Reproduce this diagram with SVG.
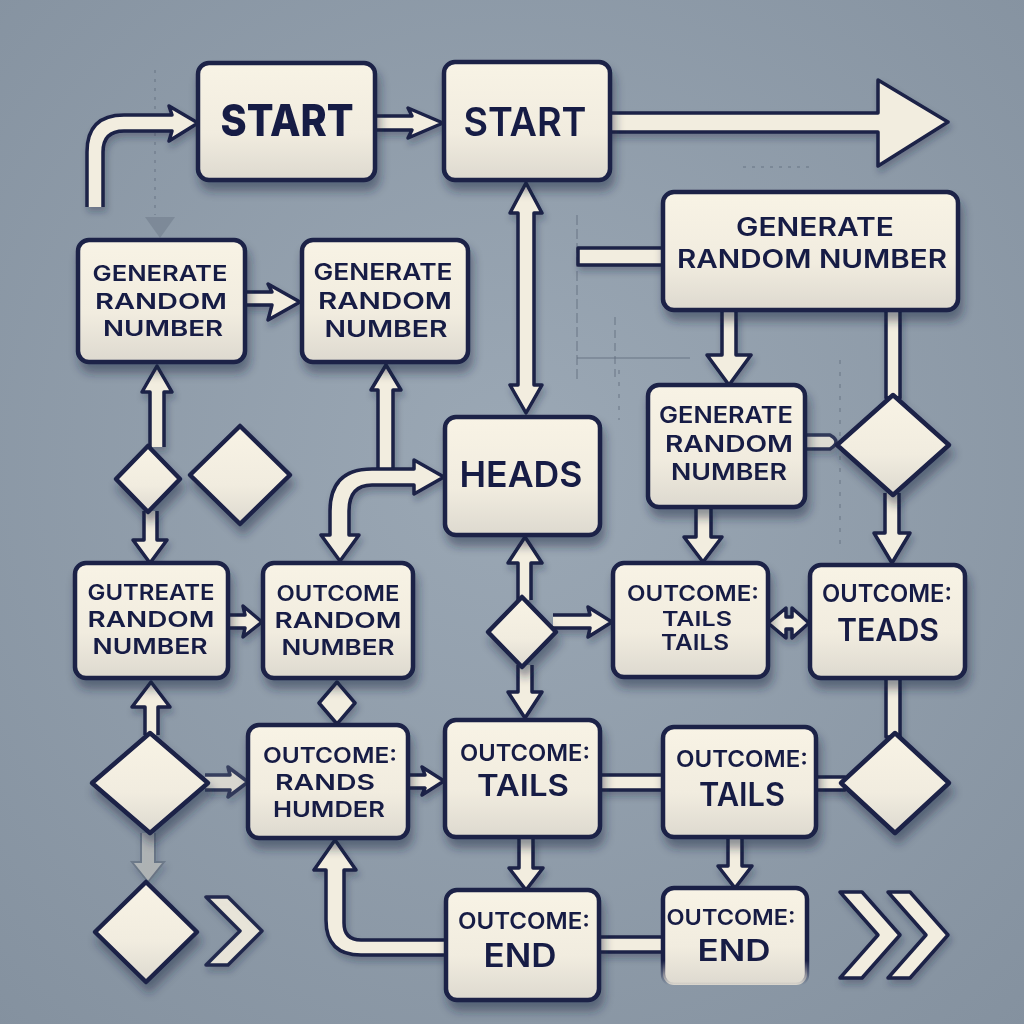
<svg xmlns="http://www.w3.org/2000/svg" width="1024" height="1024" viewBox="0 0 1024 1024">
<defs>
<radialGradient id="bg" cx="50%" cy="45%" r="75%">
<stop offset="0" stop-color="#9ba8b5"/>
<stop offset="1" stop-color="#84919f"/>
</radialGradient>
<linearGradient id="boxGrad" x1="0" y1="0" x2="0" y2="1">
<stop offset="0" stop-color="#f8f3e5"/>
<stop offset="0.6" stop-color="#f1ecdf"/>
<stop offset="1" stop-color="#ddd9cf"/>
</linearGradient>
<linearGradient id="fadeStroke" x1="0" y1="0" x2="0" y2="1">
<stop offset="0" stop-color="#1a2046"/>
<stop offset="0.75" stop-color="#1a2046"/>
<stop offset="1" stop-color="#1a2046" stop-opacity="0"/>
</linearGradient>
<filter id="sh" x="-20%" y="-20%" width="140%" height="150%">
<feGaussianBlur in="SourceAlpha" stdDeviation="5"/>
<feOffset dx="3" dy="9" result="b"/>
<feFlood flood-color="#1c2540" flood-opacity="0.45"/>
<feComposite in2="b" operator="in"/>
<feMerge><feMergeNode/><feMergeNode in="SourceGraphic"/></feMerge>
</filter>
<filter id="shs" x="-20%" y="-20%" width="140%" height="150%">
<feGaussianBlur in="SourceAlpha" stdDeviation="3"/>
<feOffset dx="2" dy="5" result="b"/>
<feFlood flood-color="#1c2540" flood-opacity="0.3"/>
<feComposite in2="b" operator="in"/>
<feMerge><feMergeNode/><feMergeNode in="SourceGraphic"/></feMerge>
</filter>
<style>
.box{fill:url(#boxGrad);stroke:#1a2046;stroke-width:4.5}
.dia{fill:url(#boxGrad);stroke:#1a2046;stroke-width:4.5;stroke-linejoin:round}
.conn{fill:#f2eddf;stroke:#1a2046;stroke-width:3.5;stroke-linejoin:round}
.faint{fill:none;stroke:#5f6c7c;stroke-width:1.5;opacity:0.55}
.t{font-family:Inter,"Liberation Sans",sans-serif;fill:#171c44;text-anchor:middle;font-weight:600}
.tb{font-weight:800}
</style>
</defs>
<rect width="1024" height="1024" fill="url(#bg)"/>

<g id="background-lines">
<line class="faint" x1="155" y1="70" x2="155" y2="215" stroke-dasharray="3 6"/>
<polygon points="145,217 175,217 160,238" fill="#6c7888" opacity="0.5"/>
<line class="faint" x1="577" y1="215" x2="577" y2="380" stroke-dasharray="10 4"/>
<line class="faint" x1="615" y1="317" x2="615" y2="380" stroke-dasharray="8 5"/>
<line class="faint" x1="577" y1="358" x2="690" y2="358"/>
<line class="faint" x1="743" y1="167" x2="815" y2="167" stroke-dasharray="3 6"/>
<line class="faint" x1="840" y1="360" x2="840" y2="547" stroke-dasharray="4 8"/>
<line class="faint" x1="619" y1="370" x2="619" y2="420" stroke-dasharray="4 8"/>
</g>

<g id="connectors" filter="url(#shs)">
<path class="conn" d="M87,207 L87,152 Q87,115 124,115 L172,115 L169,106 L198,123 L169,141 L172,131 L124,131 Q103,131 103,152 L103,207"/>
<path class="conn" d="M375,116 L412,116 L408,108 L443,123 L408,138 L412,130 L375,130"/>
<path class="conn" d="M608,113 L878,113 L878,80 L948,122 L878,166 L878,132 L608,132"/>
<path class="conn" d="M518,213 L510,213 L526,183 L542,213 L534,213 L534,385 L542,385 L526,413 L510,385 L518,385 Z"/>
<path class="conn" d="M663,248 L578,248 L578,265 L663,265"/>
<path class="conn" d="M245,292 L272,292 L268,284 L300,302 L268,320 L272,305 L245,305"/>
<path class="conn" d="M150,447 L150,392 L142,392 L157,366 L172,392 L164,392 L164,447"/>
<path class="conn" d="M378,470 L378,390 L371,390 L386,365 L401,390 L393,390 L393,470"/>
<path class="conn" d="M414,460 L444,477 L414,494 L414,485 L372,485 Q349,485 349,511 L349,535 L359,535 L340,561 L321,535 L330,535 L330,511 Q330,469 372,469 L414,469 Z"/>
<path class="conn" d="M722,310 L722,355 L707,355 L729,385 L751,355 L736,355 L736,310"/>
<path class="conn" d="M886,310 L886,398 L900,398 L900,310"/>
<path class="conn" d="M805,435 L830,435 Q842,442 830,449 L805,449" opacity="0.8"/>
<path class="conn" d="M885,493 L885,533 L874,533 L892,563 L910,533 L899,533 L899,493"/>
<path class="conn" d="M696,507 L696,537 L684,537 L703,562 L722,537 L711,537 L711,507"/>
<path class="conn" d="M144,511 L144,540 L133,540 L150,563 L167,540 L157,540 L157,511"/>
<path class="conn" d="M228,615 L245,615 L243,606 L262,622 L243,637 L245,628 L228,628"/>
<path class="conn" d="M518,600 L518,563 L508,563 L525,537 L542,563 L531,563 L531,600"/>
<path class="conn" d="M518,665 L518,692 L508,692 L525,718 L542,692 L532,692 L532,665"/>
<path class="conn" d="M553,615 L590,615 L588,607 L612,622 L588,637 L590,628 L553,628"/>
<path class="conn" d="M768,623 L786,608 L786,617 L792,617 L792,608 L809,623 L792,638 L792,629 L786,629 L786,638 Z"/>
<path class="conn" d="M886,678 L886,737 L900,737 L900,678"/>
<path class="conn" d="M145,735 L145,707 L132,707 L151,682 L170,707 L158,707 L158,735"/>
<path class="conn" d="M337,682 L355,703 L337,724 L319,703 Z"/>
<path class="conn" d="M205,775 L230,775 L228,767 L248,782 L228,797 L230,790 L205,790" opacity="0.75"/>
<path class="conn" d="M408,775 L425,775 L422,767 L444,781 L422,795 L425,788 L408,788"/>
<path class="conn" d="M600,775 L663,775 L663,790 L600,790"/>
<path class="conn" d="M816,777 L845,777 L845,790 L816,790"/>
<path d="M141,833 L141,862 L132,862 L148,882 L164,862 L155,862 L155,833" fill="#c9c9c4" stroke="#5d6878" stroke-width="2" opacity="0.6"/>
<path class="conn" d="M519,837 L519,868 L509,868 L526,890 L543,868 L533,868 L533,837"/>
<path class="conn" d="M728,837 L728,866 L718,866 L735,888 L752,866 L742,866 L742,837"/>
<path class="conn" d="M446,940 L361,940 Q344,940 344,923 L344,870 L356,870 L335,840 L314,870 L326,870 L326,920 Q326,955 361,955 L446,955"/>
<path class="conn" d="M599,937 L663,937 L663,952 L599,952"/>
</g>

<g id="n-start1" filter="url(#sh)">
<rect class="box" x="198" y="63" width="177" height="117" rx="11"/>
<text class="t tb" x="287" y="136" font-size="44" textLength="133" lengthAdjust="spacingAndGlyphs">START</text>
</g>
<g id="n-start2" filter="url(#sh)">
<rect class="box" x="444" y="62" width="166" height="118" rx="11"/>
<text class="t" x="525" y="136" font-size="40" font-weight="700" textLength="123" lengthAdjust="spacingAndGlyphs">START</text>
</g>
<g id="n-gen-top" filter="url(#sh)">
<rect class="box" x="663" y="192" width="295" height="118" rx="11"/>
<text class="t" x="815" y="236" font-size="26" textLength="158" lengthAdjust="spacingAndGlyphs">GENERATE</text>
<text class="t" x="812" y="268" font-size="26" textLength="270" lengthAdjust="spacingAndGlyphs">RANDOM NUMBER</text>
</g>
<g id="n-gen-left" filter="url(#sh)">
<rect class="box" x="78" y="240" width="167" height="122" rx="11"/>
<text class="t" x="160" y="281" font-size="22" textLength="135" lengthAdjust="spacingAndGlyphs">GENERATE</text>
<text class="t" x="161" y="308.5" font-size="22" textLength="132" lengthAdjust="spacingAndGlyphs">RANDOM</text>
<text class="t" x="163" y="336" font-size="22" textLength="120" lengthAdjust="spacingAndGlyphs">NUMBER</text>
</g>
<g id="n-gen-left2" filter="url(#sh)">
<rect class="box" x="302" y="240" width="166" height="122" rx="11"/>
<text class="t" x="383" y="280" font-size="22.5" textLength="139" lengthAdjust="spacingAndGlyphs">GENERATE</text>
<text class="t" x="385" y="308.5" font-size="22.5" textLength="134" lengthAdjust="spacingAndGlyphs">RANDOM</text>
<text class="t" x="386" y="337" font-size="22.5" textLength="123" lengthAdjust="spacingAndGlyphs">NUMBER</text>
</g>
<g id="n-heads" filter="url(#sh)">
<rect class="box" x="445" y="417" width="155" height="118" rx="11"/>
<text class="t" x="521" y="487" font-size="36" font-weight="700" textLength="123" lengthAdjust="spacingAndGlyphs">HEADS</text>
</g>
<g id="n-gen-mid" filter="url(#sh)">
<rect class="box" x="648" y="385" width="157" height="122" rx="11"/>
<text class="t" x="726" y="423" font-size="23" textLength="134" lengthAdjust="spacingAndGlyphs">GENERATE</text>
<text class="t" x="729" y="451.5" font-size="23" textLength="128" lengthAdjust="spacingAndGlyphs">RANDOM</text>
<text class="t" x="729" y="480" font-size="23" textLength="116" lengthAdjust="spacingAndGlyphs">NUMBER</text>
</g>
<g id="n-dec-right-top" filter="url(#sh)">
<path class="dia" d="M893,395 L949,445 L893,495 L837,445 Z"/>
</g>
<g id="n-dec-left-small" filter="url(#sh)">
<path class="dia" d="M148,446 L180,479 L148,512 L116,479 Z"/>
</g>
<g id="n-dec-left2" filter="url(#sh)">
<path class="dia" d="M240,426 L290,475 L240,524 L190,475 Z"/>
</g>
<g id="n-gutreate" filter="url(#sh)">
<rect class="box" x="75" y="563" width="153" height="115" rx="11"/>
<text class="t" x="151" y="600" font-size="22" textLength="127" lengthAdjust="spacingAndGlyphs">GUTREATE</text>
<text class="t" x="151" y="627" font-size="22" textLength="127" lengthAdjust="spacingAndGlyphs">RANDOM</text>
<text class="t" x="150" y="654" font-size="22" textLength="115" lengthAdjust="spacingAndGlyphs">NUMBER</text>
</g>
<g id="n-outcome-rn" filter="url(#sh)">
<rect class="box" x="263" y="563" width="150" height="115" rx="11"/>
<text class="t" x="338" y="601" font-size="22" textLength="123" lengthAdjust="spacingAndGlyphs">OUTCOME</text>
<text class="t" x="338" y="628" font-size="22" textLength="127" lengthAdjust="spacingAndGlyphs">RANDOM</text>
<text class="t" x="338" y="655" font-size="22" textLength="113" lengthAdjust="spacingAndGlyphs">NUMBER</text>
</g>
<g id="n-dec-mid" filter="url(#sh)">
<path class="dia" d="M522,597 L556,632 L522,667 L488,632 Z"/>
</g>
<g id="n-tails-tails" filter="url(#sh)">
<rect class="box" x="613" y="563" width="155" height="114" rx="11"/>
<text class="t" x="693" y="601" font-size="22" textLength="132" lengthAdjust="spacingAndGlyphs">OUTCOME:</text>
<text class="t" x="697" y="626" font-size="20" textLength="70" lengthAdjust="spacingAndGlyphs">TAILS</text>
<text class="t" x="695" y="650" font-size="21" textLength="68" lengthAdjust="spacingAndGlyphs">TAILS</text>
</g>
<g id="n-teads" filter="url(#sh)">
<rect class="box" x="810" y="565" width="155" height="113" rx="11"/>
<text class="t" x="887" y="602" font-size="24" textLength="130" lengthAdjust="spacingAndGlyphs">OUTCOME:</text>
<text class="t" x="888" y="641" font-size="31" textLength="102" lengthAdjust="spacingAndGlyphs">TEADS</text>
</g>
<g id="n-dec-left-big" filter="url(#sh)">
<path class="dia" d="M150,733 L208,783 L150,833 L92,783 Z"/>
</g>
<g id="n-rands" filter="url(#sh)">
<rect class="box" x="248" y="725" width="160" height="113" rx="11"/>
<text class="t" x="330" y="763" font-size="22" textLength="134" lengthAdjust="spacingAndGlyphs">OUTCOME:</text>
<text class="t" x="325" y="790" font-size="22" textLength="100" lengthAdjust="spacingAndGlyphs">RANDS</text>
<text class="t" x="329" y="817" font-size="22" textLength="112" lengthAdjust="spacingAndGlyphs">HUMDER</text>
</g>
<g id="n-tails" filter="url(#sh)">
<rect class="box" x="445" y="720" width="155" height="117" rx="11"/>
<text class="t" x="525" y="761" font-size="23" textLength="130" lengthAdjust="spacingAndGlyphs">OUTCOME:</text>
<text class="t" x="523" y="796" font-size="30" font-weight="700" textLength="92" lengthAdjust="spacingAndGlyphs">TAILS</text>
</g>
<g id="n-tails2" filter="url(#sh)">
<rect class="box" x="663" y="727" width="153" height="110" rx="11"/>
<text class="t" x="742" y="767" font-size="23" textLength="132" lengthAdjust="spacingAndGlyphs">OUTCOME:</text>
<text class="t" x="742" y="806" font-size="32" textLength="86" lengthAdjust="spacingAndGlyphs">TAILS</text>
</g>
<g id="n-dec-right-bottom" filter="url(#sh)">
<path class="dia" d="M895,733 L949,783 L895,833 L841,783 Z"/>
</g>
<g id="n-dec-bottom-left" filter="url(#sh)">
<path class="dia" d="M146,882 L197,932 L146,982 L95,932 Z"/>
</g>
<g id="n-chevron" filter="url(#shs)">
<path class="conn" d="M206,897 L228,897 L262,931 L228,965 L206,965 L240,931 Z" opacity="0.9"/>
</g>
<g id="n-end" filter="url(#sh)">
<rect class="box" x="446" y="890" width="153" height="110" rx="11"/>
<text class="t" x="524" y="929" font-size="23" textLength="132" lengthAdjust="spacingAndGlyphs">OUTCOME:</text>
<text class="t" x="520" y="967" font-size="32" textLength="73" lengthAdjust="spacingAndGlyphs">END</text>
</g>
<g id="n-end2">
<rect x="663" y="888" width="144" height="97" rx="11" fill="url(#boxGrad)" stroke="url(#fadeStroke)" stroke-width="4.5"/>
<text class="t" x="731" y="925" font-size="22" textLength="129" lengthAdjust="spacingAndGlyphs">OUTCOME:</text>
<text class="t" x="734" y="961" font-size="30" textLength="73" lengthAdjust="spacingAndGlyphs">END</text>
</g>
<g id="n-double-chevron" filter="url(#shs)">
<path class="conn" d="M840,892 L862,892 L900,935 L862,978 L840,978 L878,935 Z"/>
<path class="conn" d="M888,892 L910,892 L948,935 L910,978 L888,978 L926,935 Z"/>
</g>
</svg>
